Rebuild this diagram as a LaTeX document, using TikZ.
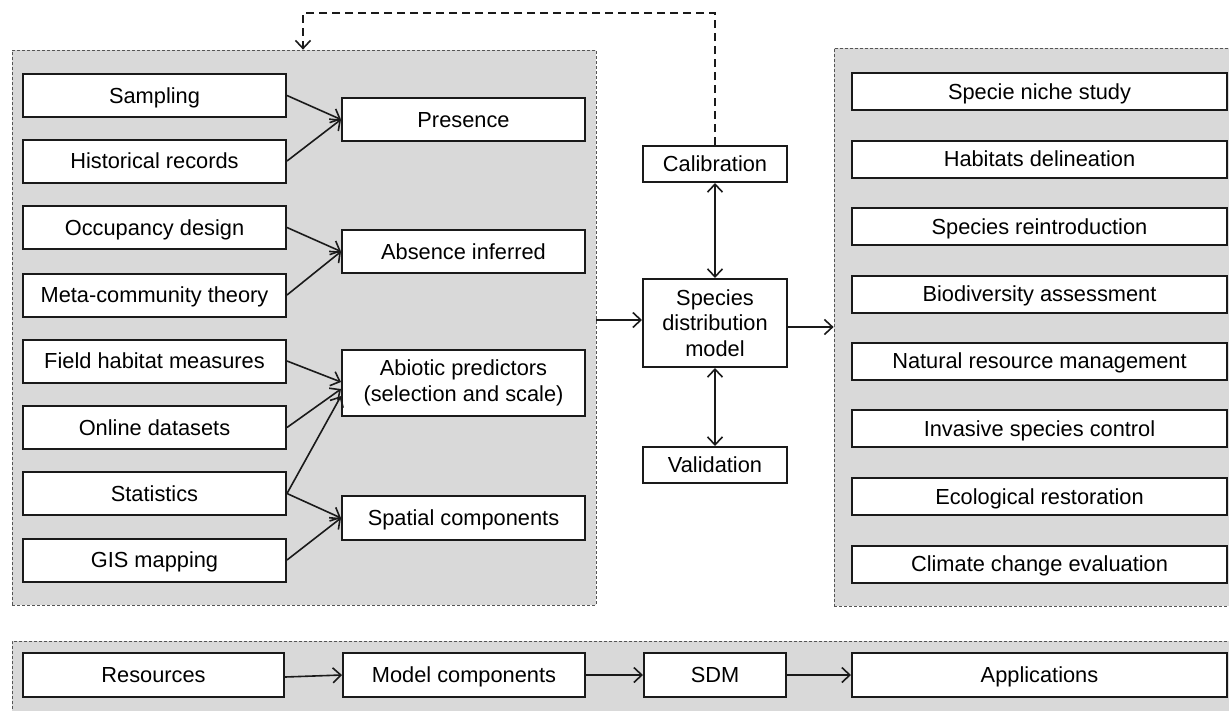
\documentclass[tikz,border=0pt]{standalone}
\usepackage{fontspec}
\setmainfont{Liberation Sans}
\usetikzlibrary{arrows.meta}
\definecolor{panelgray}{HTML}{D9D9D9}
\definecolor{paneledge}{HTML}{555555}
\definecolor{boxedge}{HTML}{1A1A1A}

\begin{document}
\begin{tikzpicture}[x=1pt, y=-1pt,
		font=\fontsize{21.8}{25.5}\selectfont,
		>={Straight Barb[length=8pt, width=15pt]},
		panel/.style={draw=paneledge, fill=panelgray, line width=0.8pt, dash pattern=on 3pt off 2pt, inner sep=0pt},
		box/.style={draw=boxedge, fill=white, line width=2pt, inner sep=0pt, align=center},
		oneline/.style={box, text height=15.6pt, text depth=0pt},
		inbox/.style={oneline, minimum width=263pt, minimum height=43pt},
		compbox/.style={oneline, minimum width=243pt, minimum height=43pt},
		usebox/.style={oneline, minimum width=375pt, minimum height=37pt},
		sdmbox/.style={oneline, minimum width=144pt, minimum height=36pt},
		link/.style={draw=boxedge, line width=1.6pt, ->}]
		\useasboundingbox (0, 0) rectangle (1229, 710);

		% grey panels
		\node[panel, minimum width=584pt, minimum height=555pt] (leftpanel) at (304, 327.5) {};
		\node[panel, minimum width=398pt, minimum height=558pt] (rightpanel) at (1033, 327) {};
		\node[panel, minimum width=1220pt, minimum height=75pt] (bottompanel) at (622, 678.5) {};

		% resources
		\node[inbox] (sampling) at (154.5, 95.5) {Sampling};
		\node[inbox] (historical) at (154.5, 161) {Historical records};
		\node[inbox] (occupancy) at (154.5, 227.5) {Occupancy design};
		\node[inbox] (metacomm) at (154.5, 295) {Meta-community theory};
		\node[inbox] (field) at (154.5, 361) {Field habitat measures};
		\node[inbox] (online) at (154.5, 427.5) {Online datasets};
		\node[inbox] (statistics) at (154.5, 493.5) {Statistics};
		\node[inbox] (gis) at (154.5, 560) {GIS mapping};

		% model components
		\node[compbox] (presence) at (463.5, 119.5) {Presence};
		\node[compbox] (absence) at (463.5, 251.5) {Absence inferred};
		\node[box, minimum width=243pt, minimum height=66pt] (abiotic) at (463.5, 383) {Abiotic predictors\\(selection and scale)};
		\node[compbox, minimum height=44pt] (spatial) at (463.5, 518) {Spatial components};

		% model
		\node[sdmbox] (calib) at (715, 164) {Calibration};
		\node[box, minimum width=144pt, minimum height=88pt] (sdm) at (715, 323) {Species\\distribution\\model};
		\node[sdmbox] (valid) at (715, 465) {Validation};

		% applications
		\node[usebox] (niche) at (1039.5, 91.5) {Specie niche study};
		\node[usebox] (habitats) at (1039.5, 159) {Habitats delineation};
		\node[usebox] (reintro) at (1039.5, 226.5) {Species reintroduction};
		\node[usebox] (biodiv) at (1039.5, 294) {Biodiversity assessment};
		\node[usebox] (natural) at (1039.5, 361) {Natural resource management};
		\node[usebox] (invasive) at (1039.5, 428.5) {Invasive species control};
		\node[usebox] (ecorest) at (1039.5, 496.5) {Ecological restoration};
		\node[usebox] (climate) at (1039.5, 564) {Climate change evaluation};

		% legend row
		\node[oneline, minimum width=261pt, minimum height=44pt] (res) at (153.5, 675) {Resources};
		\node[oneline, minimum width=242pt, minimum height=44pt] (model) at (464, 675) {Model components};
		\node[oneline, minimum width=142pt, minimum height=44pt] (sdmleg) at (715, 675) {SDM};
		\node[oneline, minimum width=375pt, minimum height=44pt] (apps) at (1039.5, 675) {Applications};

		\coordinate (fbtop) at (303, 13);

		\path[link] (sampling.east) -- (presence.west);
		\path[link] (historical.east) -- (presence.west);
		\path[link] (occupancy.east) -- (absence.west);
		\path[link] (metacomm.east) -- (absence.west);
		\path[link] (field.east) -- ([yshift=1pt]abiotic.west);
		\path[link] (online.east) -- ([yshift=-6pt]abiotic.west);
		\path[link] (statistics.east) -- ([yshift=-13pt]abiotic.west);
		\path[link] (statistics.east) -- (spatial.west);
		\path[link] (gis.east) -- (spatial.west);

		\path[link] ([yshift=3pt]sdm.west -| leftpanel.east) -- ([yshift=3pt]sdm.west);
		\path[link] ([yshift=-4pt]sdm.east) -- ([yshift=-4pt]sdm.east -| rightpanel.west);
		\path[link, <->] (calib.south) -- (sdm.north);
		\path[link, <->] (sdm.south) -- (valid.north);
		\path[link, dash pattern=on 8pt off 5pt] (calib.north) |- (fbtop) -- (fbtop |- leftpanel.north);

		\path[link] ([yshift=-2pt]res.east) -- (model.west);
		\path[link] (model.east) -- (sdmleg.west);
		\path[link] (sdmleg.east) -- (apps.west);
\end{tikzpicture}
\end{document}
